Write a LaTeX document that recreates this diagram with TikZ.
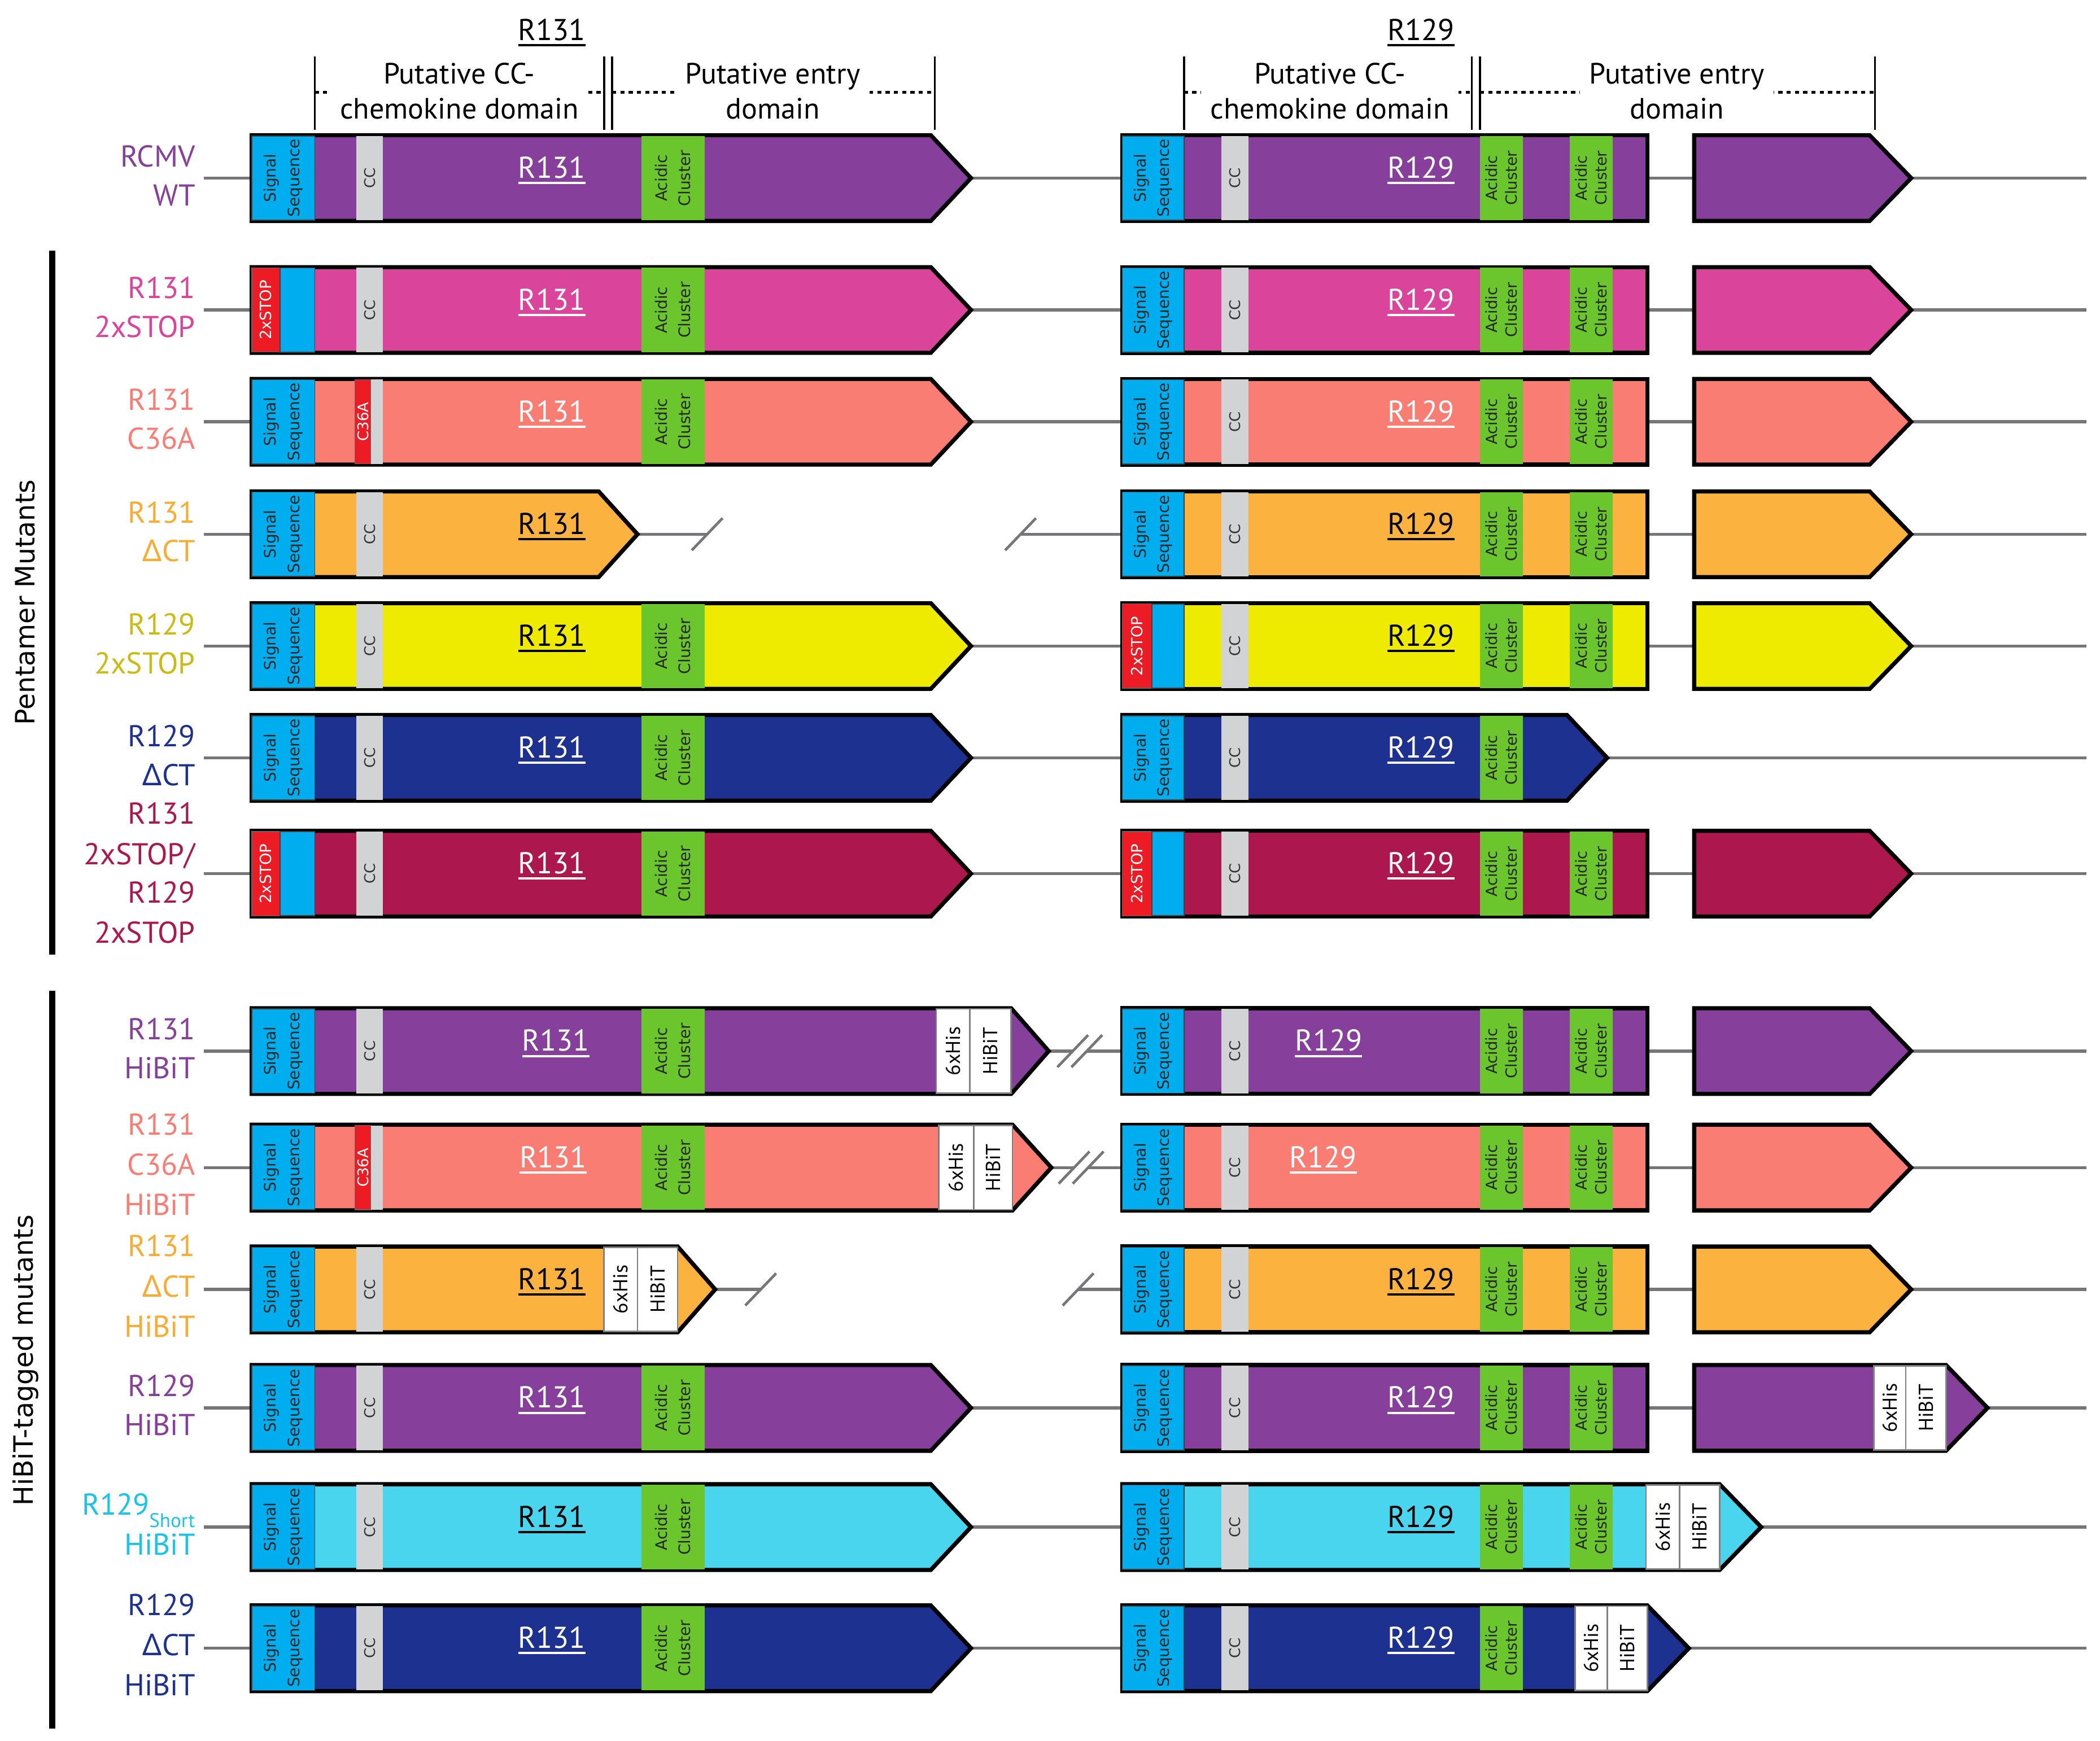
\documentclass[tikz,border=0pt]{standalone}
\usepackage{fontspec}
\setmainfont{PT Sans}
\newfontfamily\dvfont{DejaVu Sans}
\newfontfamily\grkfont{Noto Sans}
\usetikzlibrary{calc,backgrounds}

\definecolor{gpurple}{RGB}{134,64,155}
\definecolor{gpink}{RGB}{218,69,155}
\definecolor{gsalmon}{RGB}{250,125,116}
\definecolor{gorange}{RGB}{252,178,62}
\definecolor{gyellow}{RGB}{238,234,0}
\definecolor{gnavy}{RGB}{29,50,144}
\definecolor{gcrimson}{RGB}{172,24,78}
\definecolor{gcyan}{RGB}{74,213,238}
\definecolor{sigblue}{RGB}{0,174,239}
\definecolor{ccgrey}{RGB}{209,211,212}
\definecolor{acgreen}{RGB}{107,198,45}
\definecolor{stopred}{RGB}{237,28,36}
\definecolor{dnagrey}{RGB}{118,118,120}
\definecolor{lorange}{RGB}{250,172,50}
\definecolor{lyellow}{RGB}{204,187,20}
\definecolor{lcyan}{RGB}{25,196,232}

\newcommand{\ulab}[1]{\setbox0=\hbox{#1}\rlap{\rule[-3.2pt]{\wd0}{1.2pt}}\box0}
\newcommand{\dlt}{{\grkfont Δ}}

\tikzset{
 genebox/.style={draw=black, line width=2.2pt, line join=miter, miter limit=10},
 dna/.style={draw=dnagrey, line width=1.6pt},
 brk/.style={draw=dnagrey, line width=1.4pt},
 sigsty/.style={fill=sigblue, draw=black!75, line width=0.5pt},
 stopsty/.style={fill=stopred, draw=black!60, line width=0.4pt},
 ccsty/.style={fill=ccgrey},
 acsty/.style={fill=acgreen},
 tagsty/.style={fill=white, draw=black!50, line width=0.8pt},
 vtxt/.style={rotate=90, align=center, inner sep=0pt},
 sigtxt/.style={vtxt, text=black!85, font=\dvfont\fontsize{8.4}{12.4}\selectfont},
 cctxt/.style={vtxt, text=black!80, font=\dvfont\fontsize{7.8}{9}\selectfont},
 actxtL/.style={vtxt, text=black!85, font=\dvfont\fontsize{8.4}{12.2}\selectfont},
 actxtR/.style={vtxt, text=black!85, font=\dvfont\fontsize{8.2}{10.4}\selectfont},
 stoptxt/.style={vtxt, text=white, font=\dvfont\fontsize{8.2}{10}\selectfont},
 muttxt/.style={vtxt, text=white, font=\dvfont\fontsize{7.8}{9}\selectfont},
 tagtxt/.style={vtxt, text=black, font=\fontsize{10.7}{12}\selectfont},
 glab/.style={anchor=base, inner sep=0pt, font=\fontsize{16}{18}\selectfont},
 slab/.style={anchor=base east, inner sep=0pt, font=\fontsize{16}{18}\selectfont},
 hdr/.style={align=center, fill=white, inner xsep=5pt, inner ysep=1pt, font=\fontsize{15.6}{18.5}\selectfont},
 hline/.style={draw=black, line width=1.1pt},
 hdash/.style={draw=black, line width=1.6pt, dash pattern=on 2.2pt off 2.2pt},
 grplab/.style={rotate=90, inner sep=0pt, font=\dvfont\fontsize{14.2}{16}\selectfont},
 grpbar/.style={draw=black, line width=3.2pt},
}

% gene outline: name, yc, x0, xbody, xtip, colour
\newcommand{\gene}[6]{\draw[genebox,fill=#6] (#3,#2-32) -- (#4,#2-32) -- (#5,#2) -- (#4,#2+32) -- (#3,#2+32) -- cycle;
 \coordinate (#1w) at (#3,#2); \coordinate (#1e) at (#5,#2);}
% feature: name, yc, x1, x2, fill style, text style, text
\newcommand{\feat}[7]{\path[#5] (#3,#2-31.5) rectangle (#4,#2+31.5); \node[#6] (#1) at ({(#3+#4)/2},#2) {#7};}

\newcommand{\Lsig}[2]{\feat{#1sig}{#2}{188}{235}{sigsty}{sigtxt}{Signal\\Sequence}}
\newcommand{\Lstop}[2]{\feat{#1stop}{#2}{188}{209}{stopsty}{stoptxt}{2xSTOP}\feat{#1sig}{#2}{209}{235}{sigsty}{sigtxt}{}}
\newcommand{\Lcc}[2]{\feat{#1cc}{#2}{266}{286}{ccsty}{cctxt}{CC}}
\newcommand{\Lmut}[2]{\feat{#1mut}{#2}{265}{277}{stopsty}{muttxt}{C36A}\feat{#1cc}{#2}{277}{286}{ccsty}{cctxt}{}}
\newcommand{\Lac}[2]{\feat{#1ac}{#2}{479}{526}{acsty}{actxtL}{Acidic\\Cluster}}
\newcommand{\Rsig}[2]{\feat{#1Rsig}{#2}{838}{884}{sigsty}{sigtxt}{Signal\\Sequence}}
\newcommand{\Rstop}[2]{\feat{#1Rstop}{#2}{838}{860}{stopsty}{stoptxt}{2xSTOP}\feat{#1Rsig}{#2}{860}{884}{sigsty}{sigtxt}{}}
\newcommand{\Rcc}[2]{\feat{#1Rcc}{#2}{912}{932}{ccsty}{cctxt}{CC}}
\newcommand{\Raca}[2]{\feat{#1Rac1}{#2}{1105}{1137}{acsty}{actxtR}{Acidic\\Cluster}}
\newcommand{\Racb}[2]{\feat{#1Rac2}{#2}{1172}{1204}{acsty}{actxtR}{Acidic\\Cluster}}
% tags: id, yc, x1, x2, x3
\newcommand{\tagpair}[5]{\feat{#1his}{#2}{#3}{#4}{tagsty}{tagtxt}{6xHis}\feat{#1hib}{#2}{#4}{#5}{tagsty}{tagtxt}{HiBiT}}
% gene label
\newcommand{\glabel}[5]{\node[glab,text=#4] (#1) at (#3,#2) {\ulab{#5}};}
\newcommand{\Lbody}[3]{\gene{#1L}{#2}{188}{695}{725}{#3}}
\newcommand{\Rbody}[3]{\gene{#1R}{#2}{838}{1230}{1230}{#3}}
\newcommand{\Xbody}[3]{\gene{#1X}{#2}{1265}{1396}{1427}{#3}}
\newcommand{\rowends}[2]{\coordinate (#1s) at (152,#2); \coordinate (#1f) at (1558,#2);}
\newcommand{\stdlines}[1]{\begin{scope}[on background layer]\draw[dna] (#1s) -- (#1Lw) (#1Le) -- (#1Rw) (#1Re) -- (#1Xw) (#1Xe) -- (#1f);\end{scope}}
\newcommand{\sidelab}[4]{\node[slab,text=#3] (#1) at (146,#2) {#4};}
\newcommand{\brkmark}[3]{\coordinate (#1) at (#2,#3); \draw[brk] ($(#1)+(-11.5,12)$) -- ($(#1)+(11.5,-12)$);}

\begin{document}
\begin{tikzpicture}[x=0.025cm, y=-0.025cm]
\useasboundingbox (0,0) rectangle (1568,1300);

% ---------------- header
\glabel{h1}{30}{412}{black}{R131}
\glabel{h2}{30}{1061}{black}{R129}
\draw[hdash] (235,69) -- (451,69);
\draw[hdash] (457,69) -- (698,69);
\draw[hdash] (884,69) -- (1099,69);
\draw[hdash] (1105,69) -- (1400,69);
\foreach \xx in {235,451,457,698,884,1099,1105,1400} {\draw[hline] (\xx,42) -- (\xx,97);}
\node[hdr] (h1a) at (343,68) {Putative CC-\\chemokine domain};
\node[hdr] (h1b) at (577,68) {Putative entry\\domain};
\node[hdr] (h2a) at (993,68) {Putative CC-\\chemokine domain};
\node[hdr] (h2b) at (1252,68) {Putative entry\\domain};

% ---------------- group bars
\draw[grpbar] (39,187) -- (39,713);
\draw[grpbar] (39,740) -- (39,1291);
\node[grplab] (g1) at (19,450) {Pentamer Mutants};
\node[grplab] (g2) at (19,1016) {HiBiT-tagged mutants};

% ---------------- row 1 RCMV WT
\Lbody{a}{133}{gpurple}\Lsig{a}{133}\Lcc{a}{133}\Lac{a}{133}\glabel{aLt}{133}{412}{white}{R131}
\Rbody{a}{133}{gpurple}\Rsig{a}{133}\Rcc{a}{133}\Raca{a}{133}\Racb{a}{133}\glabel{aRt}{133}{1061}{white}{R129}
\Xbody{a}{133}{gpurple}
\rowends{a}{133}\stdlines{a}
\sidelab{an1}{133-8.5}{gpurple}{RCMV}\sidelab{an2}{133+20.5}{gpurple}{WT}

% ---------------- row 2 R131 2xSTOP
\Lbody{b}{231.5}{gpink}\Lstop{b}{231.5}\Lcc{b}{231.5}\Lac{b}{231.5}\glabel{bLt}{231.5}{412}{white}{R131}
\Rbody{b}{231.5}{gpink}\Rsig{b}{231.5}\Rcc{b}{231.5}\Raca{b}{231.5}\Racb{b}{231.5}\glabel{bRt}{231.5}{1061}{white}{R129}
\Xbody{b}{231.5}{gpink}
\rowends{b}{231.5}\stdlines{b}
\sidelab{bn1}{231.5-8.5}{gpink}{R131}\sidelab{bn2}{231.5+20.5}{gpink}{2xSTOP}

% ---------------- row 3 R131 C36A
\Lbody{c}{315}{gsalmon}\Lsig{c}{315}\Lmut{c}{315}\Lac{c}{315}\glabel{cLt}{315}{412}{white}{R131}
\Rbody{c}{315}{gsalmon}\Rsig{c}{315}\Rcc{c}{315}\Raca{c}{315}\Racb{c}{315}\glabel{cRt}{315}{1061}{white}{R129}
\Xbody{c}{315}{gsalmon}
\rowends{c}{315}\stdlines{c}
\sidelab{cn1}{315-8.5}{gsalmon}{R131}\sidelab{cn2}{315+20.5}{gsalmon}{C36A}

% ---------------- row 4 R131 dCT
\gene{dL}{399}{188}{447}{476}{gorange}\Lsig{d}{399}\Lcc{d}{399}\glabel{dLt}{399}{412}{black}{R131}
\Rbody{d}{399}{gorange}\Rsig{d}{399}\Rcc{d}{399}\Raca{d}{399}\Racb{d}{399}\glabel{dRt}{399}{1061}{black}{R129}
\Xbody{d}{399}{gorange}
\rowends{d}{399}
\brkmark{db1}{528}{399}\brkmark{db2}{762}{399}
\begin{scope}[on background layer]\draw[dna] (ds) -- (dLw) (dLe) -- (db1) (db2) -- (dRw) (dRe) -- (dXw) (dXe) -- (df);\end{scope}
\sidelab{dn1}{399-8.5}{lorange}{R131}\sidelab{dn2}{399+20.5}{lorange}{\dlt CT}

% ---------------- row 5 R129 2xSTOP
\Lbody{e}{482.5}{gyellow}\Lsig{e}{482.5}\Lcc{e}{482.5}\Lac{e}{482.5}\glabel{eLt}{482.5}{412}{black}{R131}
\Rbody{e}{482.5}{gyellow}\Rstop{e}{482.5}\Rcc{e}{482.5}\Raca{e}{482.5}\Racb{e}{482.5}\glabel{eRt}{482.5}{1061}{black}{R129}
\Xbody{e}{482.5}{gyellow}
\rowends{e}{482.5}\stdlines{e}
\sidelab{en1}{482.5-8.5}{lyellow}{R129}\sidelab{en2}{482.5+20.5}{lyellow}{2xSTOP}

% ---------------- row 6 R129 dCT
\Lbody{f}{566}{gnavy}\Lsig{f}{566}\Lcc{f}{566}\Lac{f}{566}\glabel{fLt}{566}{412}{white}{R131}
\gene{fR}{566}{838}{1170}{1200}{gnavy}\Rsig{f}{566}\Rcc{f}{566}\Raca{f}{566}\glabel{fRt}{566}{1061}{white}{R129}
\rowends{f}{566}
\begin{scope}[on background layer]\draw[dna] (fs) -- (fLw) (fLe) -- (fRw) (fRe) -- (ff);\end{scope}
\sidelab{fn1}{566-8.5}{gnavy}{R129}\sidelab{fn2}{566+20.5}{gnavy}{\dlt CT}

% ---------------- row 7 double 2xSTOP
\Lbody{g}{652.5}{gcrimson}\Lstop{g}{652.5}\Lcc{g}{652.5}\Lac{g}{652.5}\glabel{gLt}{652.5}{412}{white}{R131}
\Rbody{g}{652.5}{gcrimson}\Rstop{g}{652.5}\Rcc{g}{652.5}\Raca{g}{652.5}\Racb{g}{652.5}\glabel{gRt}{652.5}{1061}{white}{R129}
\Xbody{g}{652.5}{gcrimson}
\rowends{g}{652.5}\stdlines{g}
\sidelab{gn1}{652.5-37}{gcrimson}{R131}\sidelab{gn2}{652.5-7}{gcrimson}{2xSTOP/}
\sidelab{gn3}{652.5+22}{gcrimson}{R129}\sidelab{gn4}{652.5+52}{gcrimson}{2xSTOP}

% ---------------- row 8 R131 HiBiT
\gene{hL}{785}{188}{755}{783}{gpurple}\Lsig{h}{785}\Lcc{h}{785}\Lac{h}{785}\tagpair{hL}{785}{699}{724}{755}\glabel{hLt}{785}{415}{white}{R131}
\Rbody{h}{785}{gpurple}\Rsig{h}{785}\Rcc{h}{785}\Raca{h}{785}\Racb{h}{785}\glabel{hRt}{785}{992}{white}{R129}
\Xbody{h}{785}{gpurple}
\rowends{h}{785}
\brkmark{hb1}{801}{785}\brkmark{hb2}{811.5}{785}
\begin{scope}[on background layer]\draw[dna] (hs) -- (hLw) (hLe) -- (hb1) (hb2) -- (hRw) (hRe) -- (hXw) (hXe) -- (hf);\end{scope}
\sidelab{hn1}{785-8.5}{gpurple}{R131}\sidelab{hn2}{785+20.5}{gpurple}{HiBiT}

% ---------------- row 9 R131 C36A HiBiT
\gene{iL}{872}{188}{756}{785}{gsalmon}\Lsig{i}{872}\Lmut{i}{872}\Lac{i}{872}\tagpair{iL}{872}{701}{727}{756}\glabel{iLt}{872}{413}{white}{R131}
\Rbody{i}{872}{gsalmon}\Rsig{i}{872}\Rcc{i}{872}\Raca{i}{872}\Racb{i}{872}\glabel{iRt}{872}{988}{white}{R129}
\Xbody{i}{872}{gsalmon}
\rowends{i}{872}
\brkmark{ib1}{802}{872}\brkmark{ib2}{812.5}{872}
\begin{scope}[on background layer]\draw[dna] (is) -- (iLw) (iLe) -- (ib1) (ib2) -- (iRw) (iRe) -- (iXw) (iXe) -- (if);\end{scope}
\sidelab{in1}{872-24.5}{gsalmon}{R131}\sidelab{in2}{872+5.5}{gsalmon}{C36A}\sidelab{in3}{872+35.5}{gsalmon}{HiBiT}

% ---------------- row 10 R131 dCT HiBiT
\gene{jL}{963}{188}{506}{534}{gorange}\Lsig{j}{963}\Lcc{j}{963}\tagpair{jL}{963}{451}{476}{506}\glabel{jLt}{963}{412}{black}{R131}
\Rbody{j}{963}{gorange}\Rsig{j}{963}\Rcc{j}{963}\Raca{j}{963}\Racb{j}{963}\glabel{jRt}{963}{1061}{black}{R129}
\Xbody{j}{963}{gorange}
\rowends{j}{963}
\brkmark{jb1}{568}{963}\brkmark{jb2}{805}{963}
\begin{scope}[on background layer]\draw[dna] (js) -- (jLw) (jLe) -- (jb1) (jb2) -- (jRw) (jRe) -- (jXw) (jXe) -- (jf);\end{scope}
\sidelab{jn1}{963-24.5}{lorange}{R131}\sidelab{jn2}{963+5.5}{lorange}{\dlt CT}\sidelab{jn3}{963+35.5}{lorange}{HiBiT}

% ---------------- row 11 R129 HiBiT
\Lbody{k}{1051.5}{gpurple}\Lsig{k}{1051.5}\Lcc{k}{1051.5}\Lac{k}{1051.5}\glabel{kLt}{1051.5}{412}{white}{R131}
\Rbody{k}{1051.5}{gpurple}\Rsig{k}{1051.5}\Rcc{k}{1051.5}\Raca{k}{1051.5}\Racb{k}{1051.5}\glabel{kRt}{1051.5}{1061}{white}{R129}
\gene{kX}{1051.5}{1265}{1453}{1484}{gpurple}\tagpair{kX}{1051.5}{1399}{1423}{1453}
\rowends{k}{1051.5}\stdlines{k}
\sidelab{kn1}{1051.5-8.5}{gpurple}{R129}\sidelab{kn2}{1051.5+20.5}{gpurple}{HiBiT}

% ---------------- row 12 R129short HiBiT
\Lbody{l}{1140.5}{gcyan}\Lsig{l}{1140.5}\Lcc{l}{1140.5}\Lac{l}{1140.5}\glabel{lLt}{1140.5}{412}{black}{R131}
\gene{lR}{1140.5}{838}{1284}{1315}{gcyan}\Rsig{l}{1140.5}\Rcc{l}{1140.5}\Raca{l}{1140.5}\Racb{l}{1140.5}\tagpair{lR}{1140.5}{1229}{1254}{1284}\glabel{lRt}{1140.5}{1061}{black}{R129}
\rowends{l}{1140.5}
\begin{scope}[on background layer]\draw[dna] (ls) -- (lLw) (lLe) -- (lRw) (lRe) -- (lf);\end{scope}
\sidelab{ln1}{1140.5-9}{lcyan}{R129\raisebox{-6.5pt}{\fontsize{10.5}{12}\selectfont Short}}\sidelab{ln2}{1140.5+21}{lcyan}{HiBiT}

% ---------------- row 13 R129 dCT HiBiT
\Lbody{m}{1231}{gnavy}\Lsig{m}{1231}\Lcc{m}{1231}\Lac{m}{1231}\glabel{mLt}{1231}{412}{white}{R131}
\gene{mR}{1231}{838}{1230}{1261}{gnavy}\Rsig{m}{1231}\Rcc{m}{1231}\Raca{m}{1231}\tagpair{mR}{1231}{1176}{1200}{1230}\glabel{mRt}{1231}{1061}{white}{R129}
\rowends{m}{1231}
\begin{scope}[on background layer]\draw[dna] (ms) -- (mLw) (mLe) -- (mRw) (mRe) -- (mf);\end{scope}
\sidelab{mn1}{1231-24.5}{gnavy}{R129}\sidelab{mn2}{1231+5.5}{gnavy}{\dlt CT}\sidelab{mn3}{1231+35.5}{gnavy}{HiBiT}

\end{tikzpicture}
\end{document}
